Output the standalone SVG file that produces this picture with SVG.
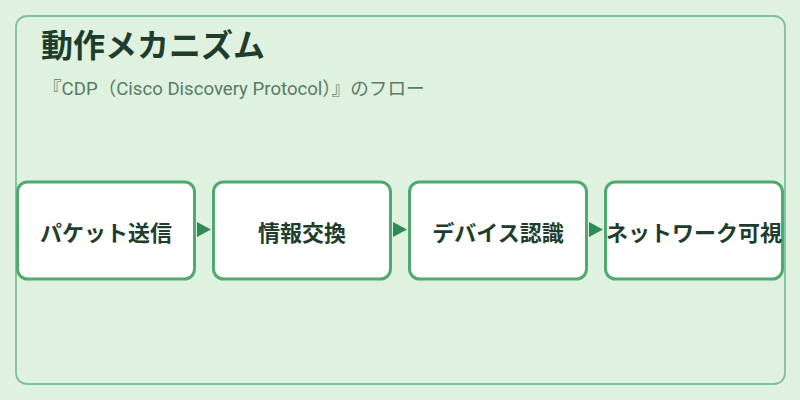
<svg xmlns="http://www.w3.org/2000/svg" width="800" height="400" viewBox="0 0 800 400">
<defs>
<style>
.node rect{fill:#ffffff;stroke:#4faa70;stroke-width:3}
.node text{font-family:"Noto Sans CJK JP","Noto Sans",sans-serif;font-weight:bold;font-size:22px;fill:#1e3d2d;text-anchor:middle;dominant-baseline:central}
.arrow{fill:#2e8b57}
</style>
</defs>
<rect x="0" y="0" width="800" height="400" fill="#dff2df"/>
<rect x="16" y="16" width="769" height="368" rx="11" fill="#dff2df" stroke="#80c19a" stroke-width="1.8"/>
<text x="41" y="57" font-family="'Noto Sans CJK JP','Noto Sans',sans-serif" font-weight="bold" font-size="32" fill="#1e3d2d">動作メカニズム</text>
<text x="43" y="95" font-family="Roboto,'Noto Sans CJK JP',sans-serif" font-size="18.6" fill="#5a7a66">『CDP（Cisco Discovery Protocol）』のフロー</text>
<g id="connectors">
<polygon class="arrow" points="197,222 211,229.5 197,237"/>
<polygon class="arrow" points="393,222 407,229.5 393,237"/>
<polygon class="arrow" points="589,222 603,229.5 589,237"/>
</g>
<g id="node1" class="node"><rect x="17.5" y="182" width="177" height="97" rx="10"/><text x="106" y="231">パケット送信</text></g>
<g id="node2" class="node"><rect x="213.5" y="182" width="177" height="97" rx="10"/><text x="302" y="231">情報交換</text></g>
<g id="node3" class="node"><rect x="409.5" y="182" width="177" height="97" rx="10"/><text x="498" y="231">デバイス認識</text></g>
<g id="node4" class="node"><rect x="605.5" y="182" width="177" height="97" rx="10"/><text x="694" y="231">ネットワーク可視</text></g>
</svg>
